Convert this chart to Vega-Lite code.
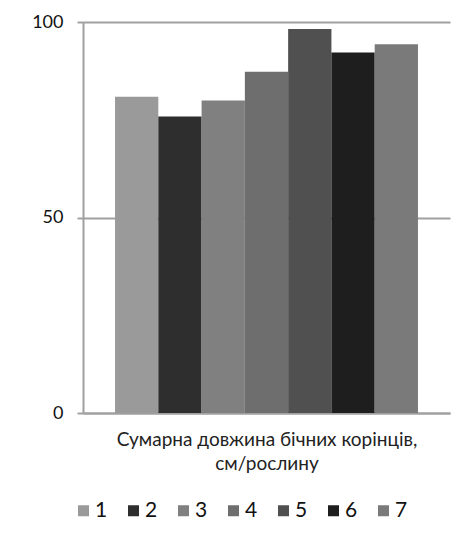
{
  "$schema": "https://vega.github.io/schema/vega-lite/v6.json",
  "width": 367,
  "height": 391,
  "autosize": {"type": "none"},
  "padding": {"left": 83, "top": 22, "right": 9, "bottom": 131},
  "background": "white",
  "config": {"view": {"stroke": null}, "font": "Lato"},
  "data": {
    "values": [
      {"series": "1", "value": 80.9},
      {"series": "2", "value": 75.8},
      {"series": "3", "value": 79.9},
      {"series": "4", "value": 87.3},
      {"series": "5", "value": 98.2},
      {"series": "6", "value": 92.2},
      {"series": "7", "value": 94.3}
    ]
  },
  "mark": {"type": "bar"},
  "encoding": {
    "x": {
      "field": "series",
      "type": "nominal",
      "scale": {"paddingInner": 0, "paddingOuter": 0.74},
      "axis": {
        "labels": false,
        "ticks": false,
        "title": ["Сумарна довжина бічних корінців,", "см/рослину"],
        "titleFont": "Lato",
        "titleFontSize": 19,
        "titleFontWeight": "normal",
        "titleColor": "#222222",
        "titlePadding": 17,
        "titleLineHeight": 24,
        "domainColor": "#a0a0a0",
        "domainWidth": 2
      }
    },
    "y": {
      "field": "value",
      "type": "quantitative",
      "scale": {"domain": [0, 100], "nice": false},
      "axis": {
        "values": [0, 50, 100],
        "title": null,
        "tickSize": 6,
        "tickColor": "#a0a0a0",
        "tickWidth": 2,
        "labelPadding": 14,
        "labelFontSize": 18,
        "labelColor": "#111111",
        "gridColor": "#a0a0a0",
        "gridWidth": 2,
        "domainColor": "#a0a0a0",
        "domainWidth": 2
      }
    },
    "color": {
      "field": "series",
      "type": "nominal",
      "scale": {"range": ["#9a9a9a", "#2e2e2e", "#808080", "#6e6e6e", "#505050", "#1e1e1e", "#7a7a7a"]},
      "legend": {
        "orient": "none",
        "legendX": -10,
        "legendY": 478,
        "direction": "horizontal",
        "columns": 7,
        "title": null,
        "symbolType": "square",
        "symbolSize": 121,
        "symbolStrokeWidth": 0,
        "labelFontSize": 21,
        "labelOffset": 1,
        "columnPadding": 15,
        "padding": 0,
        "labelColor": "#111111"
      }
    }
  }
}
